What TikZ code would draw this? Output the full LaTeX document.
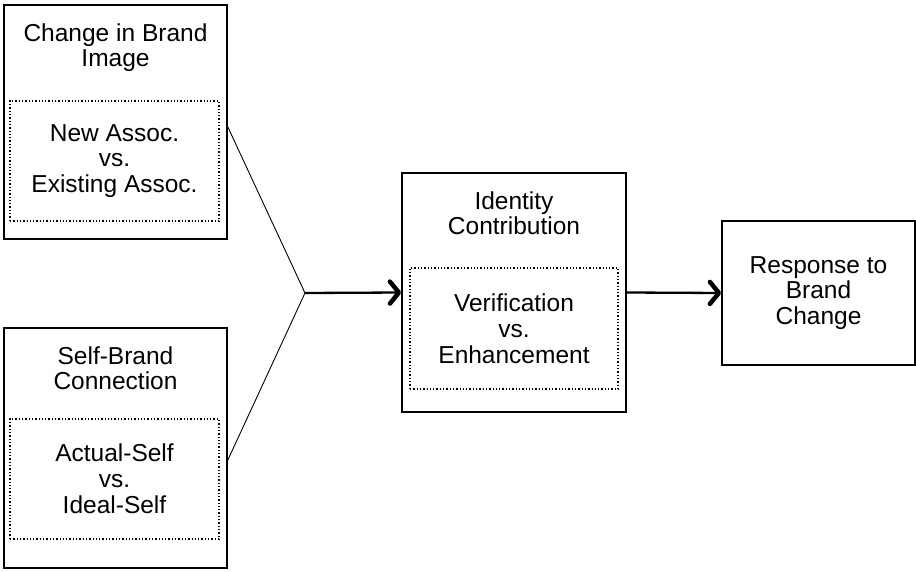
\documentclass[tikz,border=0pt]{standalone}
\usepackage{fontspec}
\setmainfont{Liberation Sans}
\usepackage{tikz}
\usetikzlibrary{arrows.meta}

\tikzset{
  outerbox/.style={draw, line width=1.7pt, inner sep=0pt},
  innerbox/.style={draw, dotted, line width=1.3pt, inner sep=0pt, align=center},
  boxtitle/.style={anchor=north, inner sep=0pt, align=center},
  flow/.style={line width=2.3pt, -{Straight Barb[length=9pt,width=22pt,line width=4.5pt 0, round]}},
}

\begin{document}
\begin{tikzpicture}[x=1pt, y=-1pt, font=\fontsize{24.5}{25.8}\selectfont]
  \useasboundingbox (0,0) rectangle (916,572);

  % left column
  \node[outerbox, minimum width=223pt, minimum height=234pt] (brandimg) at (115.5,122) {};
  \node[boxtitle] (brandimgtxt) at ([yshift=-19pt]brandimg.north) {Change in Brand\\Image};
  \node[innerbox, minimum width=209pt, minimum height=120pt] (assoc) at (114.5,161) {New Assoc.\\vs.\\Existing Assoc.};

  \node[outerbox, minimum width=223pt, minimum height=240pt] (selfbrand) at (115.5,448) {};
  \node[boxtitle] (selfbrandtxt) at ([yshift=-19pt]selfbrand.north) {Self-Brand\\Connection};
  \node[innerbox, minimum width=209pt, minimum height=120pt] (selves) at (114.5,479) {Actual-Self\\vs.\\Ideal-Self};

  % middle and right
  \node[outerbox, minimum width=224pt, minimum height=239pt] (identity) at (514,292.5) {};
  \node[boxtitle] (identitytxt) at ([yshift=-19pt]identity.north) {Identity\\Contribution};
  \node[innerbox, minimum width=208pt, minimum height=121pt] (verif) at (514,328.5) {Verification\\vs.\\Enhancement};

  \node[outerbox, align=center, minimum width=193pt, minimum height=144pt] (response) at (818.5,293) {Response to\\Brand\\Change};

  % connectors
  \coordinate (join) at (305,293);
  \draw[line width=0.9pt] ([yshift=-5pt]brandimg.east) -- (join);
  \draw[line width=0.9pt] ([yshift=-12pt]selfbrand.east) -- (join);
  \draw[flow] (join) -- (identity.west);
  \draw[flow] (identity.east) -- (response.west);
\end{tikzpicture}
\end{document}
